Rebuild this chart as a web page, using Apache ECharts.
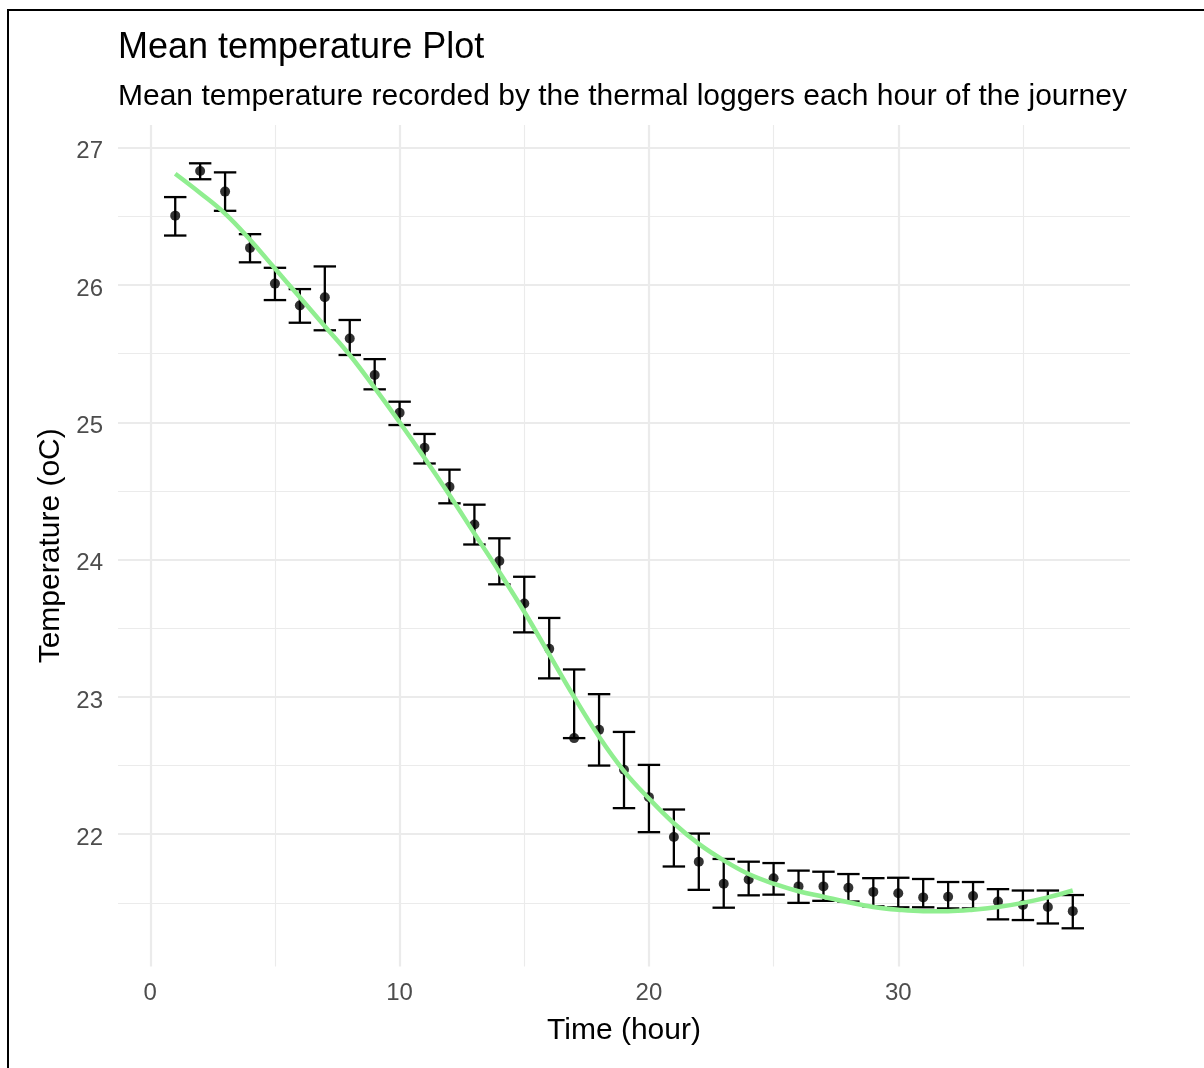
<!DOCTYPE html>
<html>
<head>
<meta charset="utf-8">
<script src="https://cdn.jsdelivr.net/npm/echarts@6/dist/echarts.min.js"></script>
<style>
  html, body { margin: 0; padding: 0; background: #fff; }
  #main { width: 1204px; height: 1068px; }
</style>
</head>
<body>
<div id="main"></div>
<script>
// hour of the journey
var hours = [1, 2, 3, 4, 5, 6, 7, 8, 9, 10, 11, 12, 13, 14, 15, 16, 17, 18, 19,
  20, 21, 22, 23, 24, 25, 26, 27, 28, 29, 30, 31, 32, 33, 34, 35, 36, 37];
// mean temperature per hour
var meanTemp = [26.505, 26.83, 26.68, 26.27, 26.01, 25.85, 25.91, 25.61, 25.345, 25.07,
  24.815, 24.53, 24.255, 23.99, 23.68, 23.35, 22.70, 22.76, 22.47, 22.27,
  21.98, 21.80, 21.64, 21.67, 21.68, 21.62, 21.62, 21.61, 21.58, 21.57,
  21.54, 21.545, 21.55, 21.51, 21.485, 21.47, 21.44];
// error bar ends
var lowerTemp = [26.36, 26.77, 26.54, 26.165, 25.89, 25.725, 25.67, 25.49, 25.24, 24.98,
  24.70, 24.41, 24.11, 23.82, 23.47, 23.135, 22.70, 22.50, 22.19, 22.015,
  21.765, 21.595, 21.465, 21.555, 21.56, 21.50, 21.515, 21.51, 21.475, 21.468,
  21.468, 21.46, 21.46, 21.38, 21.375, 21.35, 21.315];
var upperTemp = [26.64, 26.886, 26.82, 26.37, 26.125, 25.97, 26.135, 25.745, 25.46, 25.15,
  24.915, 24.655, 24.40, 24.155, 23.875, 23.575, 23.20, 23.02, 22.745, 22.505,
  22.18, 22.005, 21.82, 21.80, 21.79, 21.735, 21.727, 21.71, 21.68, 21.683,
  21.674, 21.652, 21.652, 21.60, 21.59, 21.59, 21.557];
// smoothed trend (loess)
var trendTemp = [26.81, 26.67, 26.52, 26.33, 26.12, 25.91, 25.70, 25.49, 25.25, 25.00,
  24.74, 24.47, 24.19, 23.91, 23.62, 23.31, 23.00, 22.71, 22.46, 22.26,
  22.08, 21.93, 21.81, 21.71, 21.64, 21.585, 21.545, 21.505, 21.47, 21.45,
  21.44, 21.44, 21.45, 21.47, 21.50, 21.54, 21.59];

// axis ticks
var xTicks = [0, 10, 20, 30];
var xMinorTicks = [5, 15, 25, 35];
var yTicks = [22, 23, 24, 25, 26, 27];
var yMinorTicks = [21.5, 22.5, 23.5, 24.5, 25.5, 26.5];

var font = "'Liberation Sans', Arial, sans-serif";
var chart = echarts.init(document.getElementById('main'));

function gridLines(vals, key, width) {
  return vals.map(function (v) {
    var d = { lineStyle: { width: width } };
    d[key] = v;
    return d;
  });
}

chart.setOption({
  animation: false,
  backgroundColor: '#fff',
  textStyle: { fontFamily: font },
  title: [{
    text: 'Mean temperature Plot',
    left: 113,
    top: 25,
    textStyle: { fontSize: 36, fontWeight: 'normal', color: '#000', fontFamily: font }
  }, {
    text: 'Mean temperature recorded by the thermal loggers each hour of the journey',
    left: 113,
    top: 77,
    textStyle: { fontSize: 30, fontWeight: 'normal', color: '#000', fontFamily: font }
  }],
  graphic: [{
    type: 'rect',
    shape: { x: 8, y: 10, width: 1400, height: 1200 },
    style: { fill: 'none', stroke: '#000', lineWidth: 2 },
    silent: true
  }],
  grid: { left: 118, top: 125, width: 1012, height: 841.6 },
  xAxis: {
    type: 'value',
    min: -1.295,
    max: 39.295,
    name: 'Time (hour)',
    nameLocation: 'middle',
    nameGap: 49,
    nameTextStyle: { fontSize: 30, color: '#000', fontFamily: font },
    axisLine: { show: false },
    axisTick: { show: false },
    splitLine: { show: false },
    axisLabel: {
      customValues: xTicks,
      fontSize: 24,
      color: '#4d4d4d',
      margin: 15,
      fontFamily: font
    }
  },
  yAxis: {
    type: 'value',
    min: 21.036,
    max: 27.165,
    name: 'Temperature (oC)',
    nameLocation: 'middle',
    nameRotate: 90,
    nameGap: 45,
    nameTextStyle: { fontSize: 30, color: '#000', fontFamily: font },
    axisLine: { show: false },
    axisTick: { show: false },
    splitLine: { show: false },
    axisLabel: {
      customValues: yTicks,
      fontSize: 24,
      color: '#4d4d4d',
      margin: 15,
      verticalAlign: 'top',
      lineHeight: 8,
      fontFamily: font
    }
  },
  series: [
    {
      // panel grid lines
      type: 'line',
      data: [],
      z: 1,
      silent: true,
      markLine: {
        z: 1,
        silent: true,
        symbol: 'none',
        label: { show: false },
        emphasis: { disabled: true },
        lineStyle: { color: '#ebebeb', type: 'solid' },
        data: gridLines(xMinorTicks, 'xAxis', 1.1)
          .concat(gridLines(yMinorTicks, 'yAxis', 1.1))
          .concat(gridLines(xTicks, 'xAxis', 2.2))
          .concat(gridLines(yTicks, 'yAxis', 2.2))
      }
    },
    {
      type: 'custom',
      z: 2,
      data: hours.map(function (h, i) { return [h, lowerTemp[i], upperTemp[i]]; }),
      encode: { x: 0, y: [1, 2] },
      renderItem: function (params, api) {
        var lo = api.coord([api.value(0), api.value(1)]);
        var hi = api.coord([api.value(0), api.value(2)]);
        var half = api.size([0.45, 0])[0];
        var st = { stroke: '#000', lineWidth: 2.3 };
        return {
          type: 'group',
          children: [
            { type: 'line', shape: { x1: lo[0], y1: lo[1], x2: hi[0], y2: hi[1] }, style: st },
            { type: 'line', shape: { x1: lo[0] - half, y1: lo[1], x2: lo[0] + half, y2: lo[1] }, style: st },
            { type: 'line', shape: { x1: hi[0] - half, y1: hi[1], x2: hi[0] + half, y2: hi[1] }, style: st }
          ]
        };
      }
    },
    {
      type: 'scatter',
      z: 3,
      symbol: 'circle',
      symbolSize: 10,
      itemStyle: { color: '#000' },
      data: hours.map(function (h, i) { return [h, meanTemp[i]]; })
    },
    {
      type: 'line',
      z: 4,
      smooth: 0.4,
      showSymbol: false,
      lineStyle: { color: '#90ee90', width: 4.5 },
      itemStyle: { color: '#90ee90' },
      data: hours.map(function (h, i) { return [h, trendTemp[i]]; })
    }
  ]
});
</script>
</body>
</html>
